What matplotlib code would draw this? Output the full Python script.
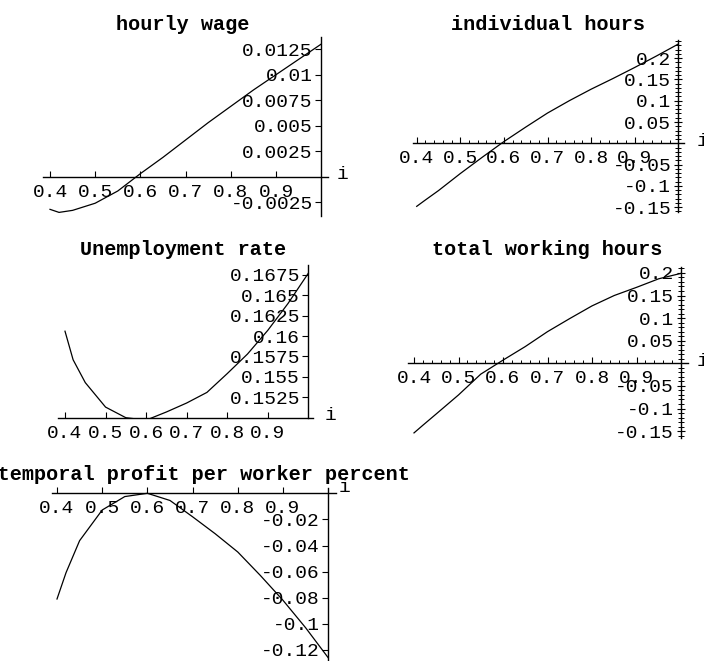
import matplotlib
matplotlib.use("Agg")
import matplotlib.pyplot as plt
from matplotlib.ticker import FixedLocator, MultipleLocator, NullFormatter

plt.rcParams["font.family"] = ["Liberation Mono", "DejaVu Sans Mono"]

# ---- data ---------------------------------------------------------------
i_values = [0.40, 0.42, 0.45, 0.50, 0.55, 0.60, 0.65, 0.70,
            0.75, 0.80, 0.85, 0.90, 0.95, 1.00]

hourly_wage = [-0.0032, -0.0035, -0.0033, -0.0026, -0.0014, 0.0003, 0.0019,
               0.0036, 0.0053, 0.0069, 0.0085, 0.0100, 0.0115, 0.0130]

individual_hours = [-0.148, -0.133, -0.111, -0.071, -0.033, 0.004, 0.038,
                    0.071, 0.100, 0.127, 0.152, 0.178, 0.205, 0.233]

unemployment_rate = [0.1606, 0.1571, 0.1543, 0.1513, 0.1500, 0.1497, 0.1507,
                     0.1518, 0.1531, 0.1554, 0.1578, 0.1607, 0.1640, 0.1677]

total_working_hours = [-0.154, -0.137, -0.112, -0.070, -0.024, 0.007, 0.037,
                       0.070, 0.099, 0.127, 0.150, 0.168, 0.187, 0.199]

profit_per_worker = [-0.081, -0.0608, -0.0363, -0.0128, -0.0025, 0.0, -0.0055,
                     -0.018, -0.031, -0.045, -0.063, -0.082, -0.103, -0.126]

x_ticks = [0.4, 0.5, 0.6, 0.7, 0.8, 0.9]
x_tick_labels = ["0.4", "0.5", "0.6", "0.7", "0.8", "0.9"]

wage_ticks = [-0.0025, 0.0025, 0.005, 0.0075, 0.01, 0.0125]
wage_labels = ["-0.0025", "0.0025", "0.005", "0.0075", "0.01", "0.0125"]

hours_ticks = [-0.15, -0.1, -0.05, 0.05, 0.1, 0.15, 0.2]
hours_labels = ["-0.15", "-0.1", "-0.05", "0.05", "0.1", "0.15", "0.2"]

unemp_ticks = [0.1525, 0.155, 0.1575, 0.16, 0.1625, 0.165, 0.1675]
unemp_labels = ["0.1525", "0.155", "0.1575", "0.16", "0.1625", "0.165", "0.1675"]

profit_ticks = [-0.12, -0.1, -0.08, -0.06, -0.04, -0.02]
profit_labels = ["-0.12", "-0.1", "-0.08", "-0.06", "-0.04", "-0.02"]

# ---- figure -------------------------------------------------------------
W, H, DPI = 704, 661, 100
fig = plt.figure(figsize=(W / DPI, H / DPI), dpi=DPI)
fig.patch.set_facecolor("white")

TICK_FS = 14
TITLE_FS = 14.5


def make_panel(series, title, yticks, ylabels, *, x04, tenth, yref, yref_px,
               px_per_unit, xlim, ylim, cross_y, title_xy, i_xy, minor=False):
    # axes rectangle in pixels from the pixel scale of each axis
    sx = tenth / 0.1
    left = x04 + (xlim[0] - 0.4) * sx
    right = x04 + (xlim[1] - 0.4) * sx
    top = yref_px - (ylim[1] - yref) * px_per_unit
    bottom = yref_px - (ylim[0] - yref) * px_per_unit
    ax = fig.add_axes([left / W, 1 - bottom / H, (right - left) / W,
                       (bottom - top) / H])
    ax.set_facecolor("none")
    ax.plot(i_values, series, color="black", lw=0.9, solid_joinstyle="round")
    ax.set_xlim(*xlim)
    ax.set_ylim(*ylim)

    for s in ("top", "right"):
        ax.spines[s].set_visible(False)
    ax.spines["left"].set_position(("data", 1.0))
    ax.spines["bottom"].set_position(("data", cross_y))
    for s in ("left", "bottom"):
        ax.spines[s].set_linewidth(1.0)
        ax.spines[s].set_color("black")

    ax.xaxis.set_major_locator(FixedLocator(x_ticks))
    ax.set_xticklabels(x_tick_labels)
    ax.yaxis.set_major_locator(FixedLocator(yticks))
    ax.set_yticklabels(ylabels)
    ax.tick_params(axis="x", direction="in", length=4, width=0.8,
                   pad=5, labelsize=TICK_FS, colors="black")
    ax.tick_params(axis="y", direction="out", length=4, width=0.8,
                   pad=2, labelsize=TICK_FS, colors="black")
    if minor:
        ax.xaxis.set_minor_locator(MultipleLocator(0.02))
        ax.yaxis.set_minor_locator(MultipleLocator(0.01))
        ax.xaxis.set_minor_formatter(NullFormatter())
        ax.yaxis.set_minor_formatter(NullFormatter())
        ax.tick_params(axis="x", which="minor", direction="in", length=2.5,
                       width=0.7)
        ax.tick_params(axis="y", which="minor", direction="inout", length=4,
                       width=0.7)
        ax.tick_params(axis="y", which="major", direction="inout", length=6)

    fig.text(title_xy[0] / W, 1 - title_xy[1] / H, title, ha="center",
             va="center", fontsize=TITLE_FS, fontweight="bold")
    fig.text(i_xy[0] / W, 1 - i_xy[1] / H, "i", ha="center", va="center",
             fontsize=TICK_FS)
    return ax


make_panel(hourly_wage, "hourly wage", wage_ticks, wage_labels,
           x04=50, tenth=45.2, yref=0.0, yref_px=176.7, px_per_unit=10200,
           xlim=(0.385, 1.015), ylim=(-0.0039, 0.0137), cross_y=0.0,
           title_xy=(183, 24), i_xy=(342, 175))

make_panel(individual_hours, "individual hours", hours_ticks, hours_labels,
           x04=416.7, tenth=43.6, yref=0.0, yref_px=143.3, px_per_unit=426,
           xlim=(0.392, 1.012), ylim=(-0.161, 0.243), cross_y=0.0,
           title_xy=(548, 24), i_xy=(703, 142), minor=True)

make_panel(unemployment_rate, "Unemployment rate", unemp_ticks, unemp_labels,
           x04=65, tenth=40.55, yref=0.15, yref_px=417.7, px_per_unit=8160,
           xlim=(0.383, 1.012), ylim=(0.15, 0.1687), cross_y=0.15,
           title_xy=(183.5, 250), i_xy=(331, 416))

make_panel(total_working_hours, "total working hours", hours_ticks,
           hours_labels, x04=414, tenth=44.5, yref=0.0, yref_px=363.3,
           px_per_unit=452, xlim=(0.387, 1.016), ylim=(-0.166, 0.214),
           cross_y=0.0, title_xy=(547, 250), i_xy=(703, 362), minor=True)

make_panel(profit_per_worker, "intertemporal profit per worker percent",
           profit_ticks, profit_labels, x04=57, tenth=45.2, yref=0.0,
           yref_px=493.3, px_per_unit=1305, xlim=(0.388, 1.018),
           ylim=(-0.1277, 0.0038), cross_y=0.0, title_xy=(173, 474),
           i_xy=(345, 487))

fig.savefig("out.png", dpi=DPI, facecolor="white")
